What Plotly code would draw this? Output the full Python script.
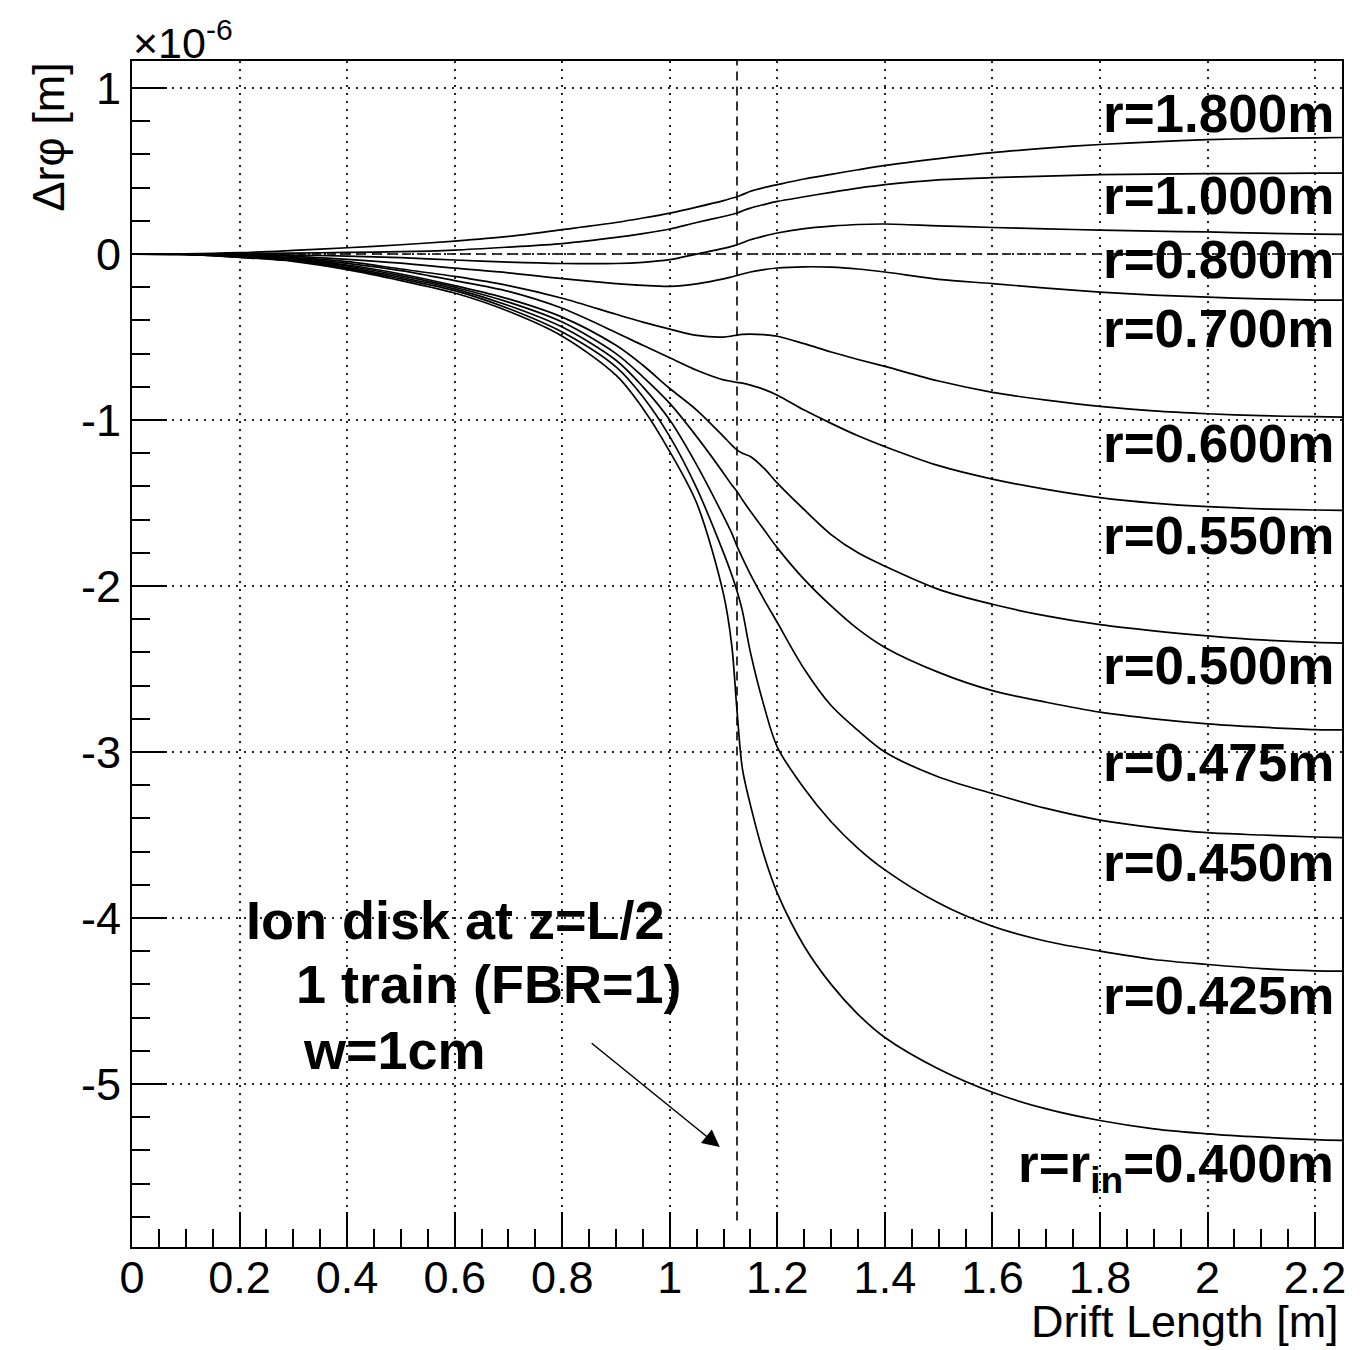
import plotly.graph_objects as go

# Drift length sample points [m]
drift_len = [0, 0.1, 0.2, 0.3, 0.4, 0.5, 0.6, 0.7, 0.8, 0.9, 0.95, 1.0, 1.05, 1.1, 1.115, 1.125,
             1.135, 1.15, 1.175, 1.2, 1.25, 1.3, 1.35, 1.4, 1.5, 1.6, 1.7, 1.8, 1.9, 2.0, 2.1, 2.2, 2.25]

# Delta r-phi distortion [1e-6 m] for each radius
dr_1800 = [0, 0.001, 0.008, 0.022, 0.038, 0.056, 0.078, 0.106, 0.147, 0.19, 0.217, 0.247, 0.283, 0.322, 0.336, 0.345,
           0.358, 0.378, 0.400, 0.418, 0.452, 0.48, 0.508, 0.534, 0.575, 0.611, 0.638, 0.66, 0.676, 0.689, 0.696, 0.70, 0.702]
dr_1000 = [0, 0.0, 0.003, 0.006, 0.01, 0.014, 0.024, 0.042, 0.063, 0.1, 0.123, 0.151, 0.19, 0.226, 0.238, 0.247,
           0.26, 0.277, 0.298, 0.317, 0.345, 0.372, 0.397, 0.418, 0.447, 0.46, 0.47, 0.478, 0.482, 0.484, 0.486, 0.487, 0.487]
dr_0800 = [0, 0.0, -0.002, -0.006, -0.012, -0.022, -0.036, -0.049, -0.057, -0.057, -0.05, -0.034, 0.0, 0.034, 0.046, 0.056,
           0.068, 0.086, 0.108, 0.127, 0.153, 0.168, 0.178, 0.181, 0.17, 0.16, 0.152, 0.144, 0.138, 0.133, 0.126, 0.12, 0.118]
dr_0700 = [0, -0.001, -0.005, -0.014, -0.032, -0.055, -0.085, -0.113, -0.148, -0.178, -0.189, -0.195, -0.18, -0.15, -0.138, -0.129,
           -0.12, -0.108, -0.094, -0.084, -0.077, -0.079, -0.09, -0.108, -0.152, -0.178, -0.205, -0.229, -0.247, -0.26, -0.27, -0.277, -0.278]
dr_0600 = [0, -0.001, -0.008, -0.022, -0.046, -0.09, -0.135, -0.19, -0.266, -0.363, -0.41, -0.452, -0.49, -0.5, -0.494, -0.488,
           -0.484, -0.482, -0.486, -0.495, -0.54, -0.59, -0.635, -0.677, -0.765, -0.833, -0.88, -0.918, -0.945, -0.962, -0.974, -0.98, -0.982]
dr_0550 = [0, -0.001, -0.01, -0.026, -0.056, -0.1, -0.16, -0.225, -0.327, -0.473, -0.55, -0.625, -0.7, -0.758, -0.767, -0.773,
           -0.778, -0.79, -0.815, -0.85, -0.94, -1.02, -1.095, -1.16, -1.275, -1.356, -1.418, -1.467, -1.5, -1.522, -1.535, -1.542, -1.544]
dr_0500 = [0, -0.002, -0.012, -0.03, -0.066, -0.12, -0.19, -0.27, -0.38, -0.55, -0.67, -0.81, -0.94, -1.1, -1.15, -1.18,
           -1.2, -1.22, -1.29, -1.38, -1.54, -1.69, -1.8, -1.88, -2.02, -2.11, -2.18, -2.233, -2.27, -2.3, -2.325, -2.34, -2.344]
dr_0475 = [0, -0.002, -0.014, -0.033, -0.072, -0.13, -0.2, -0.29, -0.41, -0.6, -0.74, -0.9, -1.1, -1.32, -1.39, -1.43,
           -1.48, -1.55, -1.66, -1.77, -1.96, -2.12, -2.26, -2.37, -2.52, -2.63, -2.70, -2.76, -2.80, -2.83, -2.85, -2.865, -2.867]
dr_0450 = [0, -0.002, -0.016, -0.036, -0.08, -0.14, -0.21, -0.31, -0.44, -0.64, -0.8, -1.0, -1.27, -1.58, -1.68, -1.76,
           -1.83, -1.93, -2.08, -2.22, -2.5, -2.72, -2.87, -3.0, -3.15, -3.25, -3.34, -3.41, -3.455, -3.486, -3.50, -3.512, -3.516]
dr_0425 = [0, -0.002, -0.018, -0.04, -0.086, -0.15, -0.22, -0.328, -0.47, -0.68, -0.86, -1.1, -1.41, -1.8, -1.93, -2.03,
           -2.15, -2.4, -2.72, -2.97, -3.22, -3.42, -3.58, -3.71, -3.91, -4.05, -4.14, -4.2, -4.25, -4.28, -4.305, -4.318, -4.32]
dr_0400 = [0, -0.002, -0.02, -0.044, -0.094, -0.16, -0.235, -0.345, -0.495, -0.73, -0.93, -1.19, -1.5, -2.05, -2.35, -2.75,
           -3.1, -3.32, -3.62, -3.85, -4.17, -4.4, -4.58, -4.72, -4.91, -5.05, -5.15, -5.22, -5.27, -5.30, -5.32, -5.335, -5.34]

radius_labels = ["r=1.800m", "r=1.000m", "r=0.800m", "r=0.700m", "r=0.600m", "r=0.550m",
                 "r=0.500m", "r=0.475m", "r=0.450m", "r=0.425m", "r=r<sub>in</sub>=0.400m"]
curves = [dr_1800, dr_1000, dr_0800, dr_0700, dr_0600, dr_0550,
          dr_0500, dr_0475, dr_0450, dr_0425, dr_0400]

# Label placement (vertical centre, in axis units)
label_y = [0.849, 0.355, -0.03, -0.446, -1.139, -1.693, -2.476, -3.066, -3.663, -4.464, -5.506]

# Ion disk position (z = L/2) and axis ranges
disk_z = 1.125
x_range = [0, 2.25]
y_range = [-5.982, 1.163]
x_ticks = [0, 0.2, 0.4, 0.6, 0.8, 1, 1.2, 1.4, 1.6, 1.8, 2, 2.2]
x_tick_text = ["0", "0.2", "0.4", "0.6", "0.8", "1", "1.2", "1.4", "1.6", "1.8", "2", "2.2"]
y_ticks = [-5, -4, -3, -2, -1, 0, 1]
y_tick_text = ["-5", "-4", "-3", "-2", "-1", "0", "1"]

FONT = "Liberation Sans, Arial, Helvetica, sans-serif"
W, H = 1370, 1350
L, R, T, B = 132, 1342, 61, 1247


def px(xp):
    return (xp - L) / (R - L)


def py(yp):
    return (B - yp) / (B - T)


fig = go.Figure()

for ys in curves:
    fig.add_trace(go.Scatter(
        x=drift_len, y=ys, mode="lines",
        line=dict(color="black", width=1.7, shape="spline", smoothing=0.9),
        showlegend=False, hoverinfo="skip"))

# reference lines: zero and ion-disk position
fig.add_shape(type="line", xref="x", yref="y", x0=x_range[0], x1=x_range[1], y0=0, y1=0,
              line=dict(color="black", width=1.6, dash="9px,6px"), layer="below")
fig.add_shape(type="line", xref="x", yref="y", x0=disk_z, x1=disk_z, y0=-5.823, y1=y_range[1],
              line=dict(color="black", width=1.6, dash="9px,6px"), layer="below")

annotations = []
for text, yv in zip(radius_labels, label_y):
    annotations.append(dict(
        x=2.239, y=yv, xref="x", yref="y", xanchor="right", yanchor="middle",
        text=f"<b>{text}</b>", showarrow=False,
        font=dict(family=FONT, size=53, color="black")))

for text, xv, yv in [("Ion disk at z=L/2", 0.209, -4.01),
                     ("1 train (FBR=1)", 0.3005, -4.40),
                     ("w=1cm", 0.3145, -4.795)]:
    annotations.append(dict(
        x=xv, y=yv, xref="x", yref="y", xanchor="left", yanchor="middle",
        text=f"<b>{text}</b>", showarrow=False,
        font=dict(family=FONT, size=54, color="black")))

# arrow pointing at the ion disk
annotations.append(dict(
    x=1.093, y=-5.38, ax=0.852, ay=-4.747, xref="x", yref="y", axref="x", ayref="y",
    text="", showarrow=True, arrowhead=2, arrowsize=2.3, arrowwidth=1.5, arrowcolor="black"))

# axis titles and exponent
annotations.append(dict(
    x=px(1341), y=py(1322), xref="paper", yref="paper", xanchor="right", yanchor="middle",
    text="Drift Length [m]", showarrow=False, font=dict(family=FONT, size=45, color="black")))
annotations.append(dict(
    x=px(48), y=py(61), xref="paper", yref="paper", xanchor="center", yanchor="top",
    text="Δrφ [m]", textangle=-90, showarrow=False,
    font=dict(family=FONT, size=45, color="black")))
annotations.append(dict(
    x=px(131), y=py(40), xref="paper", yref="paper", xanchor="left", yanchor="middle",
    text="×10<sup>-6</sup>", showarrow=False, font=dict(family=FONT, size=43, color="black")))

axis_common = dict(
    showline=True, linecolor="black", linewidth=2, mirror=True,
    ticks="inside", ticklen=35, tickwidth=2, tickcolor="black",
    showgrid=True, gridcolor="#222222", gridwidth=1.7, griddash="2px,6px",
    zeroline=False, tickfont=dict(family=FONT, size=45, color="black"),
)

fig.update_xaxes(range=x_range, tickvals=x_ticks, ticktext=x_tick_text,
                 minor=dict(dtick=0.05, ticks="inside", ticklen=18, tickwidth=2, tickcolor="black", showgrid=False),
                 ticklabelstandoff=-10, **axis_common)
fig.update_yaxes(range=y_range, tickvals=y_ticks, ticktext=y_tick_text,
                 minor=dict(dtick=0.2, ticks="inside", ticklen=18, tickwidth=2, tickcolor="black", showgrid=False),
                 ticklabelstandoff=0, **axis_common)

fig.update_layout(
    width=W, height=H, autosize=False,
    margin=dict(l=L, r=W - R, t=T, b=H - B, pad=0),
    paper_bgcolor="white", plot_bgcolor="white",
    annotations=annotations,
    font=dict(family=FONT, color="black"),
)

fig.write_html("out.html", include_plotlyjs=True, config={"displayModeBar": False})
